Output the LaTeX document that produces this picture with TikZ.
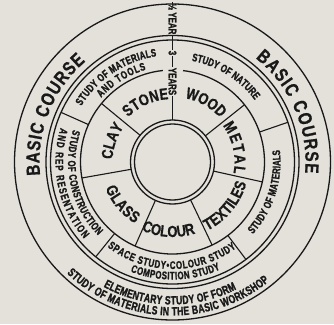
\documentclass[tikz,border=0pt]{standalone}
\usepackage{fontspec}
\setmainfont{Liberation Sans}
\newfontfamily\condfont[FakeStretch=0.8, BoldFeatures={FakeBold=0.8}]{Liberation Sans}
\newfontfamily\narrowfont[FakeStretch=0.72, BoldFeatures={FakeBold=1.5}]{Liberation Sans}
\usetikzlibrary{decorations.text}
\definecolor{paper}{RGB}{228,225,219}
\definecolor{ink}{RGB}{25,25,25}
\newcommand\coursefont{\condfont\bfseries\fontsize{19}{19}\selectfont}
\newcommand\matfont{\condfont\bfseries\fontsize{16}{16}\selectfont}
\newcommand\studyfont{\narrowfont\bfseries\fontsize{11}{11}\selectfont}
\newcommand\formfont{\narrowfont\bfseries\fontsize{12}{12}\selectfont}

\begin{document}
\begin{tikzpicture}[x=1pt, y=1pt,
  ring/.style={draw=ink, line width=1.3pt},
  divider/.style={draw=ink, line width=1.1pt},
  along/.style={decorate, decoration={text along path, text align=fit to path, text color=ink, text={#1}}},
  yearlabel/.style={rotate=-90, inner sep=1pt, text=ink, font=\narrowfont\bfseries\fontsize{11}{11}\selectfont}]
  % paper
  \useasboundingbox (-172.5,-162) rectangle (161.5,162);
  \fill[paper] (-172.5,-162) rectangle (161.5,162);
  % rings
  \draw[ring] (0,0) circle[radius=158];
  \draw[ring] (0,0) circle[radius=126.5];
  \draw[ring] (0,0) circle[radius=122];
  \draw[ring] (96:92) arc[start angle=96, end angle=443.4, radius=92];
  \draw[ring] (0,0) circle[radius=42];
  \draw[ring] (0,0) circle[radius=38];
  % dividers of the workshop materials
  \draw[divider] (140.5:42) -- (140.5:92);
  \draw[divider] (190:42) -- (190:92);
  \draw[divider] (246:42) -- (246:92);
  \draw[divider] (295.5:42) -- (295.5:92);
  \draw[divider] (347.5:42) -- (347.5:92);
  \draw[divider] (38.5:42) -- (38.5:92);
  % dividers of the studies
  \draw[divider] (19:92) -- (19:122);
  \draw[divider] (156:92) -- (156:122);
  \draw[divider] (231:92) -- (231:122);
  \draw[divider] (307:92) -- (307:122);
  % years along the vertical
  \node[yearlabel] (halfyear) at (0,143) {½ YEAR};
  \node[yearlabel] (three) at (0,109) {3};
  \node[yearlabel] (years) at (0,80.5) {YEARS};
  \coordinate (rim) at (0,158);
  \coordinate (hub) at (0,42);
  \draw[divider] (rim) -- (halfyear.west);
  \draw[divider] (halfyear.east) -- (three.west);
  \draw[divider] (three.east) -- (years.west);
  \draw[divider] (years.east) -- (hub);
  % basic course
  \path[along={|\coursefont|BASIC COURSE}] (185.7:133) arc[start angle=185.7, end angle=130.8, radius=133];
  \path[along={|\coursefont|BASIC COURSE}] (51.4:133) arc[start angle=51.4, end angle=-4.8, radius=133];
  \path[along={|\formfont|ELEMENTARY STUDY OF FORM}] (-119:142.5) arc[start angle=-119, end angle=-63.3, radius=142.5];
  \path[along={|\formfont|STUDY OF MATERIALS IN THE BASIC WORKSHOP}] (-133.5:153.5) arc[start angle=-133.5, end angle=-51, radius=153.5];
  % studies
  \path[along={|\studyfont|STUDY OF MATERIALS}] (148.5:107) arc[start angle=148.5, end angle=98.5, radius=107];
  \path[along={|\studyfont|AND TOOLS}] (138:96) arc[start angle=138, end angle=106, radius=96];
  \path[along={|\studyfont|STUDY OF NATURE}] (79.3:103) arc[start angle=79.3, end angle=36.9, radius=103];
  \path[along={|\studyfont|STUDY OF MATERIALS}] (-42:108) arc[start angle=-42, end angle=6.5, radius=108];
  \path[along={|\studyfont|SPACE STUDY•COLOUR STUDY}] (-127.5:107) arc[start angle=-127.5, end angle=-53.5, radius=107];
  \path[along={|\studyfont|COMPOSITION STUDY}] (-111:117.5) arc[start angle=-111, end angle=-66, radius=117.5];
  \path[along={|\studyfont|STUDY OF CONSTRUCTION}] (161.9:104.5) arc[start angle=161.9, end angle=224.7, radius=104.5];
  \path[along={|\studyfont|AND REP RESENTATION}] (163:117) arc[start angle=163, end angle=221, radius=117];
  % workshop materials
  \path[along={|\matfont|STONE}] (134.8:63) arc[start angle=134.8, end angle=93.5, radius=63];
  \path[along={|\matfont|WOOD}] (79:65) arc[start angle=79, end angle=44.5, radius=65];
  \path[along={|\matfont|METAL}] (36:62) arc[start angle=36, end angle=-10.5, radius=62];
  \path[along={|\matfont|TEXTILES}] (-63:77) arc[start angle=-63, end angle=-16, radius=77];
  \path[along={|\matfont|COLOUR}] (-114.5:75) arc[start angle=-114.5, end angle=-73.5, radius=75];
  \path[along={|\matfont|GLASS}] (201.3:72) arc[start angle=201.3, end angle=238.7, radius=72];
  \path[along={|\matfont|CLAY}] (177.5:60) arc[start angle=177.5, end angle=146, radius=60];
\end{tikzpicture}
\end{document}
